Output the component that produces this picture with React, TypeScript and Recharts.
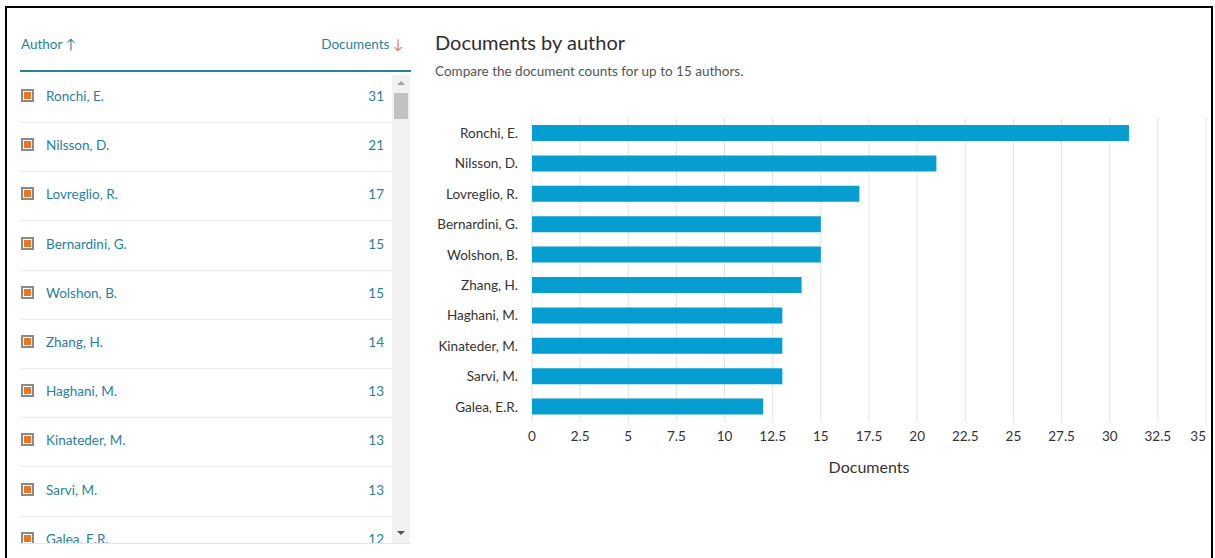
import React from "react";
import { BarChart, Bar, XAxis, YAxis, CartesianGrid } from "recharts";

const AUTHORS = [
  "Ronchi, E.",
  "Nilsson, D.",
  "Lovreglio, R.",
  "Bernardini, G.",
  "Wolshon, B.",
  "Zhang, H.",
  "Haghani, M.",
  "Kinateder, M.",
  "Sarvi, M.",
  "Galea, E.R.",
];
const DOCUMENTS = [31, 21, 17, 15, 15, 14, 13, 13, 13, 12];
const X_TICKS = [0, 2.5, 5, 7.5, 10, 12.5, 15, 17.5, 20, 22.5, 25, 27.5, 30, 32.5, 35];

const FONT = "Lato, 'Open Sans', sans-serif";
const TEAL = "#2a7fa0";
const ORANGE = "#f0731f";
const BAR = "#069dd0";

const data = AUTHORS.map((author, i) => ({ author, documents: DOCUMENTS[i] }));

// last tick label is pulled inside the plot edge, like the original
function XTick(props: any) {
  const { x, y, payload, index } = props;
  const last = index === X_TICKS.length - 1;
  return (
    <text
      x={x}
      y={y}
      dy={11}
      textAnchor={last ? "end" : "middle"}
      fontSize={13.5}
      fill="#333"
      fontFamily={FONT}
    >
      {payload.value}
    </text>
  );
}

function AuthorTable() {
  return (
    <div style={{ position: "absolute", left: 20, top: 0, width: 391, fontFamily: FONT }}>
      <div style={{ position: "absolute", top: 36, left: 1, fontSize: 13.5, color: TEAL }}>
        Author ↑
      </div>
      <div style={{ position: "absolute", top: 36, right: 8, fontSize: 13.5, color: TEAL }}>
        Documents <span style={{ color: ORANGE }}>↓</span>
      </div>
      <div
        style={{
          position: "absolute",
          top: 70,
          left: 0,
          width: 391,
          height: 2,
          background: TEAL,
        }}
      />
      {/* scrolling list, clipped at the bottom */}
      <div
        style={{
          position: "absolute",
          top: 73,
          left: 0,
          width: 391,
          height: 470,
          overflow: "hidden",
          borderBottom: "1px solid #e6e6e6",
        }}
      >
        {AUTHORS.map((a, i) => (
          <div
            key={a}
            style={{
              position: "absolute",
              top: i * 49.2,
              left: 0,
              width: 372,
              height: 49,
              borderBottom: "1px solid #ececec",
            }}
          >
            <div
              style={{
                position: "absolute",
                left: 1,
                top: 16,
                width: 9,
                height: 9,
                border: "2px solid #8a8a8a",
                background: "#fff",
              }}
            >
              <div
                style={{
                  position: "absolute",
                  left: 1,
                  top: 1,
                  width: 7,
                  height: 7,
                  background: ORANGE,
                }}
              />
            </div>
            <div style={{ position: "absolute", left: 26, top: 15, fontSize: 13.5, color: TEAL }}>
              {a}
            </div>
            <div style={{ position: "absolute", right: 8, top: 15, fontSize: 13.5, color: TEAL }}>
              {DOCUMENTS[i]}
            </div>
          </div>
        ))}
        {/* scrollbar */}
        <div
          style={{
            position: "absolute",
            left: 372,
            top: 2,
            width: 18,
            height: 470,
            background: "#f1f1f1",
          }}
        >
          <div
            style={{
              position: "absolute",
              left: 5,
              top: 6,
              width: 0,
              height: 0,
              borderLeft: "4px solid transparent",
              borderRight: "4px solid transparent",
              borderBottom: "4px solid #a3a3a3",
            }}
          />
          <div
            style={{
              position: "absolute",
              left: 2,
              top: 18,
              width: 14,
              height: 26,
              background: "#c1c1c1",
            }}
          />
          <div
            style={{
              position: "absolute",
              left: 5,
              top: 456,
              width: 0,
              height: 0,
              borderLeft: "4px solid transparent",
              borderRight: "4px solid transparent",
              borderTop: "4px solid #505050",
            }}
          />
        </div>
      </div>
    </div>
  );
}

export default function App() {
  return (
    <div
      style={{
        position: "absolute",
        left: 0,
        top: 0,
        width: 1215,
        height: 558,
        background: "#fff",
        overflow: "hidden",
        fontFamily: FONT,
      }}
    >
      <div
        style={{
          position: "absolute",
          left: 5,
          top: 6,
          width: 1204,
          height: 600,
          border: "2px solid #000",
        }}
      />
      <AuthorTable />
      <div style={{ position: "absolute", left: 435, top: 30, fontSize: 20, color: "#2e2e2e" }}>
        Documents by author
      </div>
      <div style={{ position: "absolute", left: 435, top: 63, fontSize: 13.5, color: "#555" }}>
        Compare the document counts for up to 15 authors.
      </div>
      <div style={{ position: "absolute", left: 420, top: 100 }}>
        <BarChart
          width={795}
          height={390}
          data={data}
          layout="vertical"
          margin={{ top: 18, right: 9, bottom: 8, left: 0 }}
          barSize={16}
        >
          <CartesianGrid horizontal={false} stroke="#e3e3e3" />
          <XAxis
            type="number"
            domain={[0, 35]}
            ticks={X_TICKS}
            interval={0}
            axisLine={false}
            tickLine={false}
            height={60}
            tick={<XTick />}
            label={{
              value: "Documents",
              position: "insideBottom",
              offset: 9,
              fontSize: 16,
              fill: "#333",
              fontFamily: FONT,
            }}
          />
          <YAxis
            type="category"
            dataKey="author"
            width={112}
            axisLine={false}
            tickLine={false}
            tickMargin={8}
            tick={{ fontSize: 13.5, fill: "#333", fontFamily: FONT }}
          />
          <Bar dataKey="documents" fill={BAR} isAnimationActive={false} />
        </BarChart>
      </div>
    </div>
  );
}
